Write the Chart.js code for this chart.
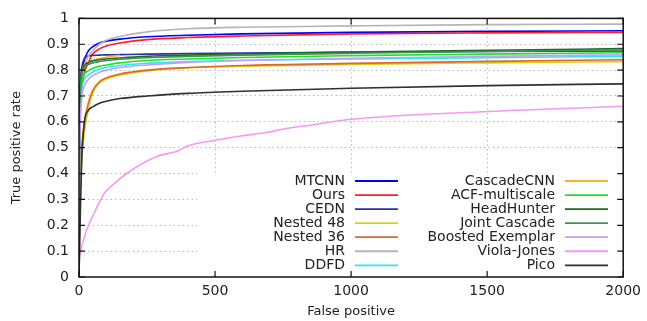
<!DOCTYPE html>
<html>
<head>
<meta charset="utf-8">
<script src="https://cdn.jsdelivr.net/npm/chart.js@4"></script>
<style>
  html, body { margin: 0; padding: 0; background: #fff; }
  #wrap { width: 647px; height: 321px; }
</style>
</head>
<body>
<div id="wrap"><canvas id="roc"></canvas></div>
<script>
// ==== Data (false positives vs true positive rate) ====
const fp = [0, 2, 5, 10, 20, 35, 50, 75, 100, 150, 250, 400, 600, 1000, 1500, 2000];

const mtcnn       = [0, 0.55, 0.72, 0.78, 0.84, 0.875, 0.89, 0.905, 0.912, 0.92, 0.929, 0.935, 0.94, 0.946, 0.95, 0.952];
const ours        = [0, 0.50, 0.65, 0.73, 0.79, 0.83, 0.862, 0.882, 0.893, 0.905, 0.918, 0.926, 0.932, 0.94, 0.944, 0.946];
const cedn        = [0, 0.60, 0.75, 0.81, 0.845, 0.855, 0.857, 0.858, 0.859, 0.86, 0.862, 0.864, 0.866, 0.869, 0.872, 0.874];
const nested48    = [0, 0.20, 0.35, 0.45, 0.56, 0.65, 0.71, 0.75, 0.765, 0.78, 0.797, 0.808, 0.815, 0.822, 0.828, 0.833];
const nested36    = [0, 0.25, 0.40, 0.50, 0.60, 0.675, 0.72, 0.755, 0.77, 0.785, 0.80, 0.81, 0.818, 0.826, 0.834, 0.84];
const hr          = [0, 0.55, 0.70, 0.77, 0.82, 0.855, 0.875, 0.90, 0.915, 0.93, 0.948, 0.96, 0.966, 0.971, 0.976, 0.978];
const ddfd        = [0, 0.50, 0.65, 0.73, 0.765, 0.782, 0.792, 0.803, 0.81, 0.818, 0.826, 0.833, 0.838, 0.843, 0.848, 0.853];
const cascadeCnn  = [0, 0.50, 0.70, 0.78, 0.82, 0.832, 0.838, 0.845, 0.85, 0.857];
const acf         = [0, 0.55, 0.70, 0.75, 0.785, 0.798, 0.806, 0.815, 0.82, 0.828, 0.837, 0.843, 0.849, 0.856, 0.862, 0.867];
const headHunter  = [0, 0.60, 0.74, 0.79, 0.818, 0.83, 0.836, 0.84, 0.843, 0.847, 0.853, 0.858, 0.863, 0.87, 0.877, 0.883];
const jointCasc   = [0, 0.58, 0.72, 0.78, 0.81, 0.822, 0.828, 0.833, 0.837, 0.842, 0.848, 0.853, 0.858, 0.865, 0.872, 0.878];
const boosted     = [0, 0.45, 0.60, 0.69, 0.74, 0.765, 0.778, 0.792, 0.80, 0.81, 0.82, 0.83, 0.837, 0.846, 0.853, 0.859];
const pico        = [0, 0.10, 0.25, 0.45, 0.60, 0.645, 0.658, 0.672, 0.68, 0.69, 0.70, 0.71, 0.718, 0.73, 0.74, 0.747];

const vjFp  = [0, 4, 22, 52, 95, 113, 187, 284, 370, 394, 491, 601, 687, 784, 845, 992, 1504, 2000];
const vjTpr = [0.06, 0.089, 0.164, 0.239, 0.327, 0.346, 0.409, 0.465, 0.49, 0.505, 0.527, 0.546, 0.559, 0.578, 0.586, 0.609, 0.64, 0.66];

const xTicks = [0, 500, 1000, 1500, 2000];
const yTicks = [0, 0.1, 0.2, 0.3, 0.4, 0.5, 0.6, 0.7, 0.8, 0.9, 1];

const series = [
  { label: "MTCNN",             x: fp,   y: mtcnn,      color: "#0000ff" },
  { label: "Ours",              x: fp,   y: ours,       color: "#ff2020" },
  { label: "CEDN",              x: fp,   y: cedn,       color: "#30309a" },
  { label: "Nested 48",         x: fp,   y: nested48,   color: "#d2d21e" },
  { label: "Nested 36",         x: fp,   y: nested36,   color: "#e0662a" },
  { label: "HR",                x: fp,   y: hr,         color: "#b4b4b4" },
  { label: "DDFD",              x: fp,   y: ddfd,       color: "#22eef0" },
  { label: "CascadeCNN",        x: fp,   y: cascadeCnn, color: "#ffb020" },
  { label: "ACF-multiscale",    x: fp,   y: acf,        color: "#22e022" },
  { label: "HeadHunter",        x: fp,   y: headHunter, color: "#1f6a1f" },
  { label: "Joint Cascade",     x: fp,   y: jointCasc,  color: "#3f8f62" },
  { label: "Boosted Exemplar",  x: fp,   y: boosted,    color: "#c89cff" },
  { label: "Viola-Jones",       x: vjFp, y: vjTpr,      color: "#f49af4" },
  { label: "Pico",              x: fp,   y: pico,       color: "#303030" }
];

const FONT = "DejaVu Sans";
const TEXT = "#222";

// ==== Gnuplot-like frame, inner ticks, key box, axis titles ====
const gnuplotDecor = {
  id: "gnuplotDecor",
  afterDatasetsDraw(chart) {
    const { ctx, chartArea: a, scales } = chart;
    ctx.save();

    // key box (opaque, hides grid underneath)
    ctx.fillStyle = "#fff";
    ctx.fillRect(197, 173, a.right - 197 - 1, a.bottom - 173 - 1);

    ctx.font = `14px "${FONT}"`;
    ctx.textBaseline = "middle";
    ctx.textAlign = "right";
    series.forEach((s, i) => {
      const col = i < 7 ? 0 : 1;
      const row = i % 7;
      const y = 181 + row * 14.05;
      const textRight = col === 0 ? 345 : 555;
      ctx.fillStyle = TEXT;
      ctx.fillText(s.label, textRight, y);
      ctx.strokeStyle = s.color;
      ctx.lineWidth = 1.8;
      ctx.beginPath();
      ctx.moveTo(textRight + 10, y);
      ctx.lineTo(textRight + 53, y);
      ctx.stroke();
    });

    // frame
    ctx.strokeStyle = "#111";
    ctx.lineWidth = 1.5;
    ctx.strokeRect(a.left, a.top, a.right - a.left, a.bottom - a.top);

    // inward ticks on all four sides
    ctx.lineWidth = 1.2;
    ctx.beginPath();
    xTicks.forEach(v => {
      const x = scales.x.getPixelForValue(v);
      ctx.moveTo(x, a.bottom); ctx.lineTo(x, a.bottom - 6);
      ctx.moveTo(x, a.top); ctx.lineTo(x, a.top + 6);
    });
    yTicks.forEach(v => {
      const y = scales.y.getPixelForValue(v);
      ctx.moveTo(a.left, y); ctx.lineTo(a.left + 6, y);
      ctx.moveTo(a.right, y); ctx.lineTo(a.right - 6, y);
    });
    ctx.stroke();

    // axis titles
    ctx.fillStyle = TEXT;
    ctx.font = `13px "${FONT}"`;
    ctx.textAlign = "center";
    ctx.fillText("False positive", (a.left + a.right) / 2, 312);
    ctx.translate(17, (a.top + a.bottom) / 2);
    ctx.rotate(-Math.PI / 2);
    ctx.fillText("True positive rate", 0, 0);
    ctx.restore();
  }
};

// ==== Chart ====
const gridColor = max => c => (c.tick.value === 0 || c.tick.value === max) ? "rgba(0,0,0,0)" : "#b8b8b8";

new Chart(document.getElementById("roc"), {
  type: "scatter",
  data: {
    datasets: series.map((s, i) => ({
      label: s.label,
      data: s.y.map((v, k) => ({ x: s.x[k], y: v })),
      showLine: true,
      borderColor: s.color,
      backgroundColor: s.color,
      borderWidth: 1.6,
      pointRadius: 0,
      cubicInterpolationMode: "monotone",
      order: series.length - i
    }))
  },
  options: {
    responsive: true,
    maintainAspectRatio: false,
    animation: false,
    layout: { padding: { left: 0, top: 11, right: 21, bottom: 0 } },
    plugins: { legend: { display: false }, tooltip: { enabled: false } },
    scales: {
      x: {
        type: "linear",
        min: 0, max: 2000,
        afterFit: s => { s.height = 44; },
        afterBuildTicks: s => { s.ticks = xTicks.map(v => ({ value: v })); },
        ticks: {
          color: TEXT, font: { family: FONT, size: 14 }, padding: 6, maxRotation: 0,
          callback: v => String(v)
        },
        grid: { color: gridColor(2000), lineWidth: 1, drawTicks: false },
        border: { display: false, dash: [1.5, 3] }
      },
      y: {
        min: 0, max: 1,
        afterFit: s => { s.width = 79; },
        afterBuildTicks: s => { s.ticks = yTicks.map(v => ({ value: v })); },
        ticks: {
          color: TEXT, font: { family: FONT, size: 14 }, padding: 10,
          callback: v => String(Number(v.toFixed(1)))
        },
        grid: { color: gridColor(1), lineWidth: 1, drawTicks: false },
        border: { display: false, dash: [1.5, 3] }
      }
    }
  },
  plugins: [gnuplotDecor]
});
</script>
</body>
</html>
